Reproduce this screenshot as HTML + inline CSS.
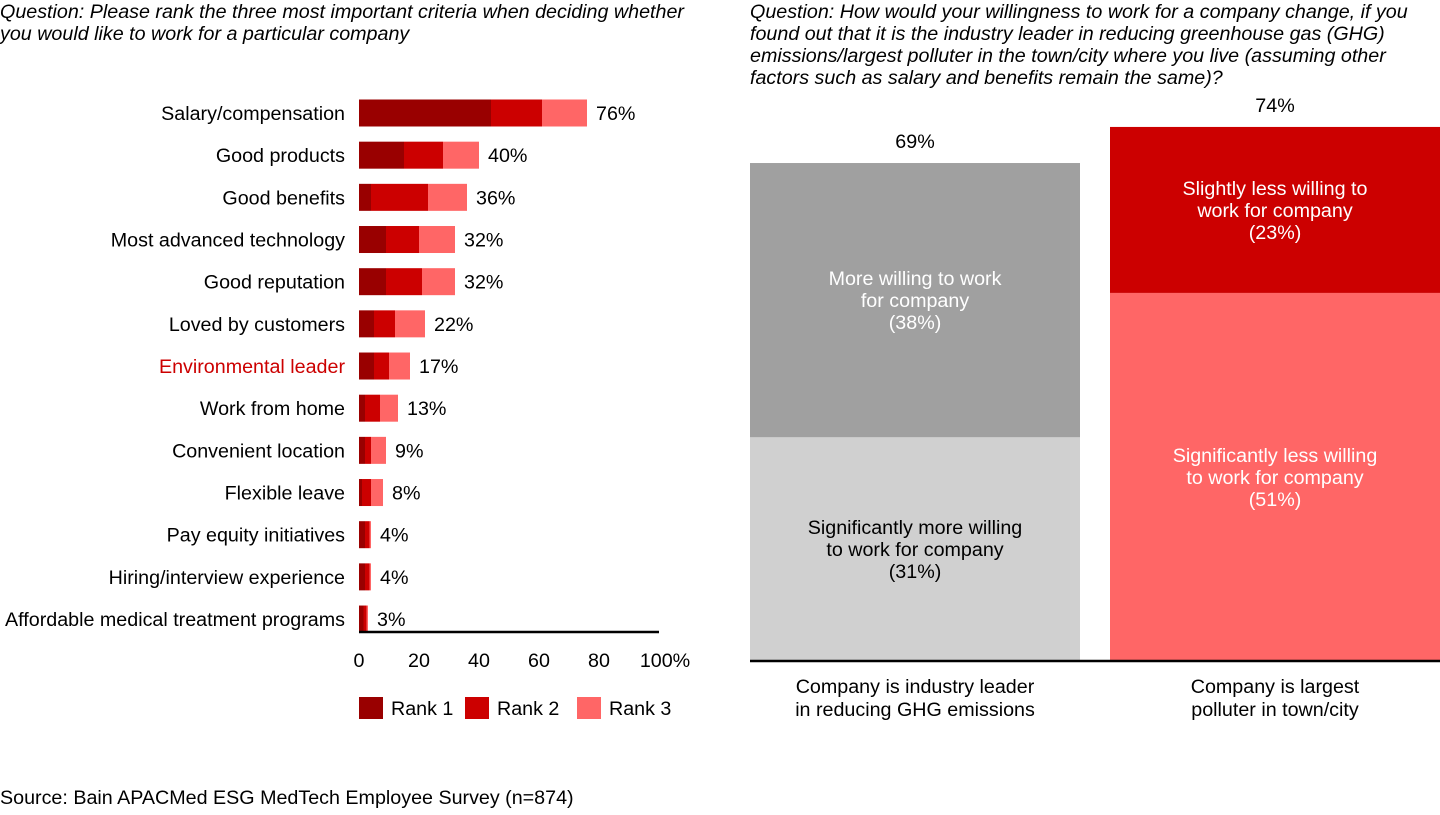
<!DOCTYPE html>
<html><head><meta charset="utf-8"><style>
body{margin:0;width:1440px;height:810px;background:#fff;font-family:"Liberation Sans",sans-serif;overflow:hidden}
svg text{font-family:"Liberation Sans",sans-serif}
</style></head><body>
<svg id="c" width="1440" height="810" xmlns="http://www.w3.org/2000/svg">
<text x="0" y="18" font-size="19.7" font-style="italic" fill="#000"><tspan x="0">Question: Please rank the three most important criteria when deciding whether</tspan><tspan x="0" dy="22">you would like to work for a particular company</tspan></text>
<text x="750" y="18" font-size="19.7" font-style="italic" fill="#000"><tspan x="750">Question: How would your willingness to work for a company change, if you</tspan><tspan x="750" dy="22">found out that it is the industry leader in reducing greenhouse gas (GHG)</tspan><tspan x="750" dy="22">emissions/largest polluter in the town/city where you live (assuming other</tspan><tspan x="750" dy="22">factors such as salary and benefits remain the same)?</tspan></text>
<text x="0" y="804" font-size="19.7">Source: Bain APACMed ESG MedTech Employee Survey (n=874)</text>
<g id="left"></g><g id="right"></g>
</svg>
<script>
const categories=["Salary/compensation","Good products","Good benefits","Most advanced technology","Good reputation","Loved by customers","Environmental leader","Work from home","Convenient location","Flexible leave","Pay equity initiatives","Hiring/interview experience","Affordable medical treatment programs"];
const rank1=[44,15,4,9,9,5,5,2,2,1,2,2,1.5];
const rank2=[17,13,19,11,12,7,5,5,2,3,1.5,1.5,1];
const rank3=[15,12,13,12,11,10,7,6,5,4,0.5,0.5,0.5];
const totals=["76%","40%","36%","32%","32%","22%","17%","13%","9%","8%","4%","4%","3%"];
const xTicks=[0,20,40,60,80,100];
const seriesNames=["Rank 1","Rank 2","Rank 3"];
const colors=["#990000","#cc0000","#ff6666"];
const rightCats=["Company is industry leader|in reducing GHG emissions","Company is largest|polluter in town/city"];
const rightLow=[31,51];
const rightHigh=[38,23];
const rightTotals=["69%","74%"];
const lowLabels=["Significantly more willing|to work for company|(31%)","Significantly less willing|to work for company|(51%)"];
const highLabels=["More willing to work|for company|(38%)","Slightly less willing to|work for company|(23%)"];
const NS="http://www.w3.org/2000/svg";
const FS=19.7;
function mk(p,t,a){const e=document.createElementNS(NS,t);for(const k in a)e.setAttribute(k,a[k]);p.appendChild(e);return e;}
const L=document.getElementById('left');
const x0=359,pxPer=3.0;
const xs=v=>x0+v*pxPer;
const ys=i=>113+i*42.17;
categories.forEach((c,i)=>{
  const t=mk(L,'text',{x:345,y:ys(i)+7,'font-size':FS,'text-anchor':'end',fill:c==="Environmental leader"?"#cc0000":"#000"});
  t.textContent=c;
  
  
  let acc=0;
  [rank1,rank2,rank3].forEach((s,k)=>{
    const r=mk(L,'rect',{x:xs(acc),y:ys(i)-13.5,width:s[i]*pxPer,height:27,fill:colors[k]});
    
    
    acc+=s[i];
  });
  const v=mk(L,'text',{x:xs(acc)+9,y:ys(i)+7,'font-size':FS});
  v.textContent=totals[i];
  
  
});
const ax=mk(L,'line',{x1:359,x2:659,y1:632,y2:632,stroke:'#000','stroke-width':2.5});


xTicks.forEach(v=>{
  const t=mk(L,'text',{x:xs(v)+(v===100?6:0),y:667,'font-size':FS,'text-anchor':'middle'});
  t.textContent=v+(v===100?'%':'');
  
  
});
const legX=[359,465,577];
seriesNames.forEach((n,k)=>{
  const r=mk(L,'rect',{x:legX[k],y:697,width:24,height:22,fill:colors[k]});
  
  
  const t=mk(L,'text',{x:legX[k]+32,y:715,'font-size':FS});
  t.textContent=n;
  
  
});
const R=document.getElementById('right');
const base=661,py=7.217;
const colX=[750,1110],colW=330;
const lowC=["#d0d0d0","#ff6666"],highC=["#a0a0a0","#cc0000"],lowT=["#000","#fff"],highT=["#fff","#fff"];
function multi(txt,cx,cy,fill){
  const lines=txt.split('|');
  lines.forEach((l,j)=>{
    const t=mk(R,'text',{x:cx,y:cy+(j-(lines.length-1)/2)*22+7,'font-size':FS,'text-anchor':'middle',fill:fill});
    t.textContent=l;
    
    
  });
}
rightCats.forEach((c,i)=>{
  const cx=colX[i]+colW/2;
  const hl=rightLow[i]*py,hh=rightHigh[i]*py;
  const r1=mk(R,'rect',{x:colX[i],y:base-hl,width:colW,height:hl,fill:lowC[i]});
  
  
  const r2=mk(R,'rect',{x:colX[i],y:base-hl-hh,width:colW,height:hh,fill:highC[i]});
  
  
  multi(lowLabels[i],cx,base-hl/2,lowT[i]);
  multi(highLabels[i],cx,base-hl-hh/2,highT[i]);
  const t=mk(R,'text',{x:cx,y:base-hl-hh-15,'font-size':FS,'text-anchor':'middle'});
  t.textContent=rightTotals[i];
  
  
  c.split('|').forEach((l,j)=>{
    const tt=mk(R,'text',{x:cx,y:693+j*23,'font-size':FS,'text-anchor':'middle'});
    tt.textContent=l;
    
    
  });
});
const ax2=mk(R,'line',{x1:750,x2:1440,y1:661,y2:661,stroke:'#000','stroke-width':2.5});


</script>
</body></html>
